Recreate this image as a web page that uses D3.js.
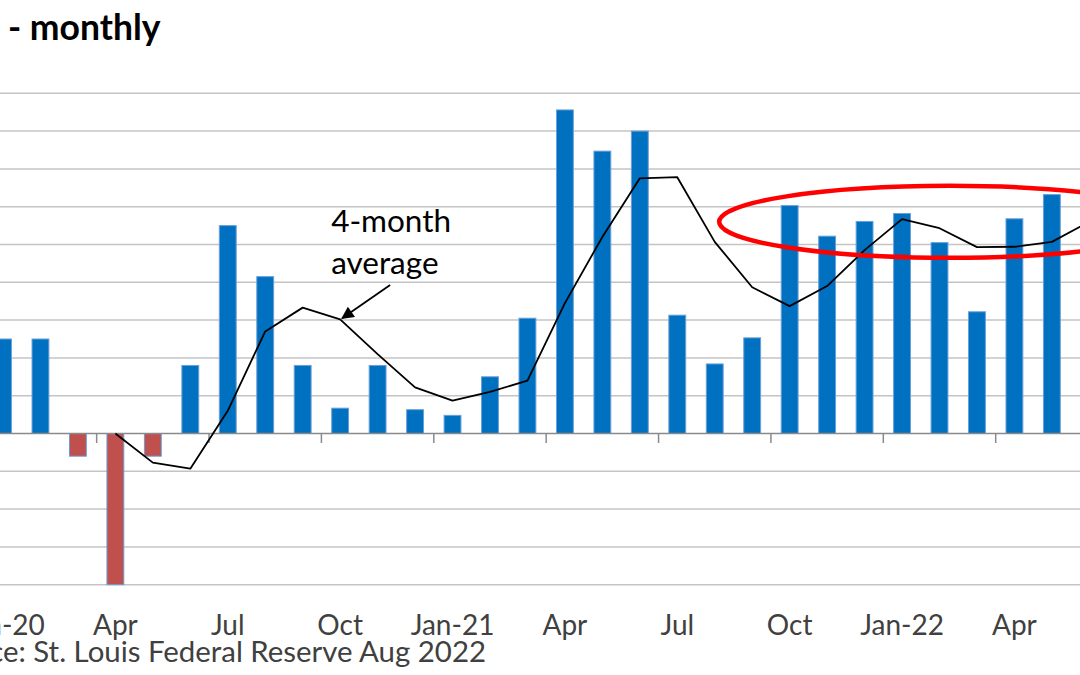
<!DOCTYPE html>
<html>
<head>
<meta charset="utf-8">
<script src="https://cdn.jsdelivr.net/npm/d3@7"></script>
<style>
  html, body { margin: 0; padding: 0; background: #ffffff; }
  svg { display: block; }
  text { font-family: Lato, "Open Sans", sans-serif; }
</style>
</head>
<body>
<svg id="chart" width="1080" height="675"></svg>
<script>
// ---- data ----
const months = ["Jan-20","Feb-20","Mar-20","Apr-20","May-20","Jun-20","Jul-20","Aug-20","Sep-20","Oct-20","Nov-20","Dec-20",
                "Jan-21","Feb-21","Mar-21","Apr-21","May-21","Jun-21","Jul-21","Aug-21","Sep-21","Oct-21","Nov-21","Dec-21",
                "Jan-22","Feb-22","Mar-22","Apr-22","May-22","Jun-22"];
const monthlyChange = [0.25, 0.25, -0.06, -0.40, -0.06, 0.18, 0.55, 0.415, 0.18, 0.067, 0.18, 0.063,
                       0.048, 0.15, 0.305, 0.856, 0.747, 0.80, 0.313, 0.184, 0.253, 0.603, 0.522, 0.561,
                       0.582, 0.505, 0.322, 0.568, 0.632, 0.72];
const fourMonthAvg = [null, null, null, 0.00, -0.077, -0.093, 0.06, 0.27, 0.333, 0.302, 0.21, 0.122,
                      0.087, 0.11, 0.14, 0.345, 0.52, 0.675, 0.678, 0.507, 0.387, 0.337, 0.39, 0.485,
                      0.567, 0.543, 0.493, 0.494, 0.507, 0.56];
const tickMonths = ["Jan-20","Apr-20","Jul-20","Oct-20","Jan-21","Apr-21","Jul-21","Oct-21","Jan-22","Apr-22"];
const tickLabels = ["Jan-20","Apr","Jul","Oct","Jan-21","Apr","Jul","Oct","Jan-22","Apr"];
const yTicks = [-0.4,-0.3,-0.2,-0.1,0,0.1,0.2,0.3,0.4,0.5,0.6,0.7,0.8,0.9];
const titleText = "- monthly";
const sourceText = "Source: St. Louis Federal Reserve Aug 2022";
const annotationLines = ["4-month", "average"];

// ---- layout ----
const svg = d3.select("#chart");
const step = 37.46;
const firstCenter = 3;
const x = d3.scaleBand()
  .domain(months)
  .range([firstCenter - step / 2, firstCenter - step / 2 + step * months.length])
  .paddingInner(0.55)
  .paddingOuter(0.275);
const xc = m => x(m) + x.bandwidth() / 2;
const y = d3.scaleLinear().domain([-0.4, 0.9]).range([584.7, 93.3]);

// gridlines
svg.append("g").selectAll("line")
  .data(yTicks.filter(v => v !== 0))
  .join("line")
  .attr("x1", 0).attr("x2", 1080)
  .attr("y1", d => y(d)).attr("y2", d => y(d))
  .attr("stroke", "#c4c4c4").attr("stroke-width", 1.5);

// bars
const data = months.map((m, i) => ({ m, v: monthlyChange[i] }));
svg.append("g").selectAll("rect")
  .data(data)
  .join("rect")
  .attr("x", d => x(d.m))
  .attr("width", x.bandwidth())
  .attr("y", d => y(Math.max(0, d.v)))
  .attr("height", d => Math.abs(y(d.v) - y(0)))
  .attr("fill", d => d.v < 0 ? "#c0504d" : "#0070c0")
  .attr("stroke", "#6a9fd8")
  .attr("stroke-width", 1);

// zero axis line
svg.append("line")
  .attr("x1", 0).attr("x2", 1080)
  .attr("y1", y(0)).attr("y2", y(0))
  .attr("stroke", "#8a8a8a").attr("stroke-width", 1.6);

// tick marks at quarter boundaries
svg.append("g").selectAll("line")
  .data(tickMonths)
  .join("line")
  .attr("x1", d => x(d) - (step - x.bandwidth()) / 2)
  .attr("x2", d => x(d) - (step - x.bandwidth()) / 2)
  .attr("y1", y(0)).attr("y2", y(0) + 9.5)
  .attr("stroke", "#8a8a8a").attr("stroke-width", 1.5);

// category labels
const xAxis = d3.axisBottom(x)
  .tickValues(tickMonths)
  .tickFormat((d, i) => tickLabels[i])
  .tickSize(0);
const gx = svg.append("g").call(xAxis);
gx.select(".domain").remove();
gx.selectAll("text")
  .attr("y", 635).attr("dy", 0)
  .attr("fill", "#404040")
  .style("font-size", "28px")
  .style("font-family", "Lato, sans-serif");

// 4-month average line
const avgData = months.map((m, i) => ({ m, v: fourMonthAvg[i] })).filter(d => d.v !== null);
svg.append("path")
  .datum(avgData)
  .attr("fill", "none")
  .attr("stroke", "#000")
  .attr("stroke-width", 1.8)
  .attr("stroke-linejoin", "round")
  .attr("d", d3.line().x(d => xc(d.m)).y(d => y(d.v)));

// red ellipse annotation
svg.append("ellipse")
  .attr("cx", xc("Feb-22") + 10)
  .attr("cy", y(0.56))
  .attr("rx", step * 6.15)
  .attr("ry", 36)
  .attr("fill", "none")
  .attr("stroke", "#ff0000")
  .attr("stroke-width", 4.5);

// annotation text
const ann = svg.append("text")
  .attr("fill", "#000")
  .style("font-size", "31.5px");
ann.append("tspan").attr("x", xc("Oct-20") - 9).attr("y", 232).text(annotationLines[0]);
ann.append("tspan").attr("x", xc("Oct-20") - 9).attr("y", 274).text(annotationLines[1]);

// arrow
svg.append("defs").append("marker")
  .attr("id", "arrow")
  .attr("viewBox", "0 0 10 10")
  .attr("refX", 9).attr("refY", 5)
  .attr("markerWidth", 8).attr("markerHeight", 7)
  .attr("markerUnits", "strokeWidth")
  .attr("orient", "auto")
  .append("path").attr("d", "M0,0 L10,5 L0,10 Z").attr("fill", "#000");
svg.append("line")
  .attr("x1", xc("Oct-20") + 50).attr("y1", y(0.393))
  .attr("x2", xc("Oct-20") + 2).attr("y2", y(0.302) - 1)
  .attr("stroke", "#000").attr("stroke-width", 1.8)
  .attr("marker-end", "url(#arrow)");

// title
svg.append("text")
  .attr("x", 8).attr("y", 40)
  .attr("fill", "#000")
  .style("font-size", "35.5px")
  .style("font-weight", "bold")
  .text(titleText);

// source
svg.append("text")
  .attr("x", 486).attr("y", 662)
  .attr("text-anchor", "end")
  .attr("fill", "#404040")
  .style("font-size", "29.4px")
  .text(sourceText);
</script>
</body>
</html>
